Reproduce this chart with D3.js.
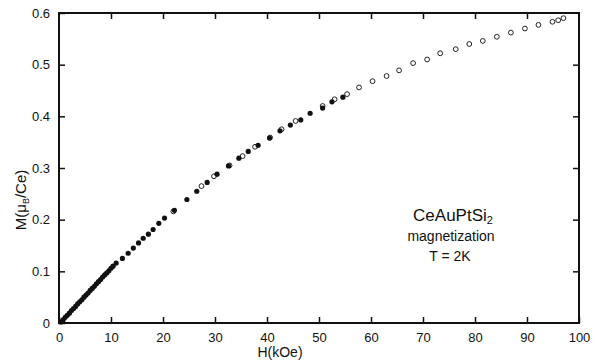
<!DOCTYPE html>
<html>
<head>
<meta charset="utf-8">
<script src="https://cdn.jsdelivr.net/npm/d3@7"></script>
<style>
  body { margin: 0; background: #fff; }
  svg { display: block; }
  text { font-family: "Liberation Sans", Arial, sans-serif; fill: #111; }
</style>
</head>
<body>
<div id="chart"></div>
<script>
// field H (kOe) and magnetization M (muB/Ce)
const filledH = [0.2, 0.6, 1.0, 1.4, 1.8, 2.2, 2.6, 3.0, 3.4, 3.8, 4.2, 4.6, 5.0, 5.4, 5.8, 6.2, 6.6, 7.0, 7.4, 7.8, 8.2, 8.6, 9.0, 9.4, 9.8, 10.2,
  10.8, 12.0, 13.1, 14.1, 15.1, 16.0, 17.0, 17.9, 19.0, 20.1, 22.0, 24.4, 26.3, 28.3, 30.2, 32.4, 34.4, 36.2, 38.1, 40.3, 42.3, 44.3, 46.3, 48.1, 50.5, 52.3, 54.4];
const filledM = [0.002, 0.006, 0.011, 0.015, 0.019, 0.024, 0.028, 0.032, 0.037, 0.041, 0.045, 0.050, 0.054, 0.058, 0.063, 0.067, 0.071, 0.076, 0.080, 0.084, 0.089, 0.093, 0.097, 0.101, 0.106, 0.110,
  0.116, 0.125, 0.135, 0.145, 0.155, 0.164, 0.172, 0.181, 0.193, 0.203, 0.218, 0.239, 0.255, 0.272, 0.288, 0.304, 0.319, 0.332, 0.344, 0.358, 0.372, 0.383, 0.393, 0.406, 0.416, 0.428, 0.437];

const openH = [22.0, 27.4, 29.8, 32.8, 35.3, 37.7, 40.6, 42.8, 45.5, 50.7, 53.0, 55.4, 57.7, 60.3, 63.0, 65.4, 68.1, 70.8, 73.3, 76.3, 78.9, 81.5, 84.2, 86.9, 89.6, 92.2, 94.9, 96.0, 97.0];
const openM = [0.216, 0.265, 0.284, 0.305, 0.323, 0.341, 0.359, 0.375, 0.391, 0.420, 0.433, 0.443, 0.456, 0.468, 0.478, 0.489, 0.503, 0.510, 0.522, 0.530, 0.540, 0.546, 0.554, 0.562, 0.570, 0.577, 0.583, 0.586, 0.590];

const xTicks = [0, 10, 20, 30, 40, 50, 60, 70, 80, 90, 100];
const yTicks = [0, 0.1, 0.2, 0.3, 0.4, 0.5, 0.6];
const yTickLabels = ["0", "0.1", "0.2", "0.3", "0.4", "0.5", "0.6"];

const width = 598, height = 361;
const margin = { top: 13, right: 19, bottom: 38, left: 59 };
const w = width - margin.left - margin.right;
const h = height - margin.top - margin.bottom;

const svg = d3.select('#chart')
  .append('svg')
  .attr('width', width)
  .attr('height', height);

const g = svg.append('g')
  .attr('transform', `translate(${margin.left},${margin.top})`);

const x = d3.scaleLinear().domain([0, 100]).range([0, w]);
const y = d3.scaleLinear().domain([0, 0.6]).range([h, 0]);

// axes with inward ticks on all four sides
const styleAxis = sel => {
  sel.select('.domain').remove();
  sel.selectAll('.tick line').attr('stroke', '#111').attr('stroke-width', 1.5);
  sel.selectAll('text').style('font-size', '13px').attr('fill', '#111');
};

g.append('g')
  .attr('transform', `translate(0,${h})`)
  .call(d3.axisBottom(x).tickValues(xTicks).tickSizeInner(-6).tickSizeOuter(0).tickPadding(10))
  .call(styleAxis);

g.append('g')
  .call(d3.axisTop(x).tickValues(xTicks.slice(1, -1)).tickSizeInner(-6).tickSizeOuter(0).tickFormat(''))
  .call(styleAxis);

g.append('g')
  .call(d3.axisLeft(y).tickValues(yTicks).tickSizeInner(-6).tickSizeOuter(0).tickPadding(9)
    .tickFormat((d, i) => yTickLabels[i]))
  .call(styleAxis);

g.append('g')
  .attr('transform', `translate(${w},0)`)
  .call(d3.axisRight(y).tickValues(yTicks.slice(1, -1)).tickSizeInner(-6).tickSizeOuter(0).tickFormat(''))
  .call(styleAxis);

g.append('rect')
  .attr('width', w)
  .attr('height', h)
  .attr('fill', 'none')
  .attr('stroke', '#111')
  .attr('stroke-width', 2);

// open circles first, filled on top
g.selectAll('.open')
  .data(openH.map((d, i) => ({ h: d, m: openM[i] })))
  .enter()
  .append('circle')
  .attr('class', 'open')
  .attr('cx', d => x(d.h))
  .attr('cy', d => y(d.m))
  .attr('r', 2.4)
  .attr('fill', '#fff')
  .attr('stroke', '#222')
  .attr('stroke-width', 1);

g.selectAll('.filled')
  .data(filledH.map((d, i) => ({ h: d, m: filledM[i] })))
  .enter()
  .append('circle')
  .attr('class', 'filled')
  .attr('cx', d => x(d.h) + 1)
  .attr('cy', d => y(d.m))
  .attr('r', 2.6)
  .attr('fill', '#111');

// axis titles
svg.append('text')
  .attr('x', 280)
  .attr('y', 357)
  .attr('text-anchor', 'middle')
  .style('font-size', '14px')
  .text('H(kOe)');

const yl = svg.append('text')
  .attr('transform', 'translate(26,200) rotate(-90)')
  .attr('text-anchor', 'middle')
  .style('font-size', '15px');
yl.append('tspan').text('M(\u03BC');
yl.append('tspan').attr('baseline-shift', '-3').style('font-size', '9px').text('B');
yl.append('tspan').text('/Ce)');

// annotation
const ann = svg.append('text')
  .attr('x', 453)
  .attr('y', 221)
  .attr('text-anchor', 'middle')
  .style('font-size', '17px');
ann.append('tspan').text('CeAuPtSi');
ann.append('tspan').attr('baseline-shift', '-3').style('font-size', '11px').text('2');

svg.append('text')
  .attr('x', 451)
  .attr('y', 241)
  .attr('text-anchor', 'middle')
  .style('font-size', '14px')
  .text('magnetization');

svg.append('text')
  .attr('x', 450)
  .attr('y', 261)
  .attr('text-anchor', 'middle')
  .style('font-size', '14px')
  .text('T = 2K');
</script>
</body>
</html>
